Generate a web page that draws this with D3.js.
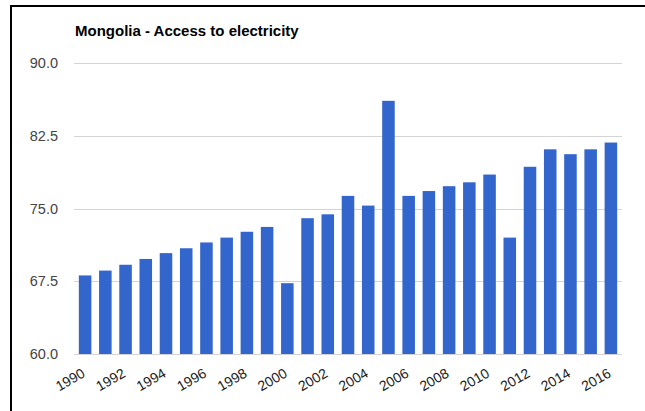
<!DOCTYPE html>
<html>
<head>
<meta charset="utf-8">
<script src="https://cdnjs.cloudflare.com/ajax/libs/d3/7.8.5/d3.min.js"></script>
<style>
  body { margin: 0; background: #fff; }
  text { font-family: Arial, "Liberation Sans", sans-serif; }
</style>
</head>
<body>
<div id="chart"></div>
<script>
// data
var years = [1990, 1991, 1992, 1993, 1994, 1995, 1996, 1997, 1998, 1999,
             2000, 2001, 2002, 2003, 2004, 2005, 2006, 2007, 2008, 2009,
             2010, 2011, 2012, 2013, 2014, 2015, 2016];
var access = [68.1, 68.6, 69.2, 69.8, 70.4, 70.9, 71.5, 72.0, 72.6, 73.1,
              67.3, 74.0, 74.4, 76.3, 75.3, 86.1, 76.3, 76.8, 77.3, 77.7,
              78.5, 72.0, 79.3, 81.1, 80.6, 81.1, 81.8];
var yTicks = [60, 67.5, 75, 82.5, 90];
var xLabelYears = years.filter(function(y){ return y % 2 == 0; });

var width = 645, height = 411;
var margin = {top: 63, right: 24, bottom: 57, left: 75};

var svg = d3.select("#chart").append("svg")
    .attr("width", width)
    .attr("height", height);

// frame (top + left edge only)
svg.append("line").attr("x1", 11).attr("x2", width).attr("y1", 6).attr("y2", 6)
    .attr("stroke", "#000").attr("stroke-width", 2);
svg.append("line").attr("x1", 11).attr("x2", 11).attr("y1", 5).attr("y2", height)
    .attr("stroke", "#000").attr("stroke-width", 2);

var x = d3.scaleBand()
    .domain(years)
    .range([margin.left, width - margin.right])
    .paddingInner(0.38)
    .paddingOuter(0.19);

var y = d3.scaleLinear()
    .domain([60, 90])
    .range([height - margin.bottom, margin.top]);

// gridlines
svg.append("g").selectAll("line")
    .data(yTicks)
    .enter().append("line")
    .attr("x1", margin.left - 1)
    .attr("x2", width - margin.right + 1)
    .attr("y1", function(d){ return Math.round(y(d)) + 0.5; })
    .attr("y2", function(d){ return Math.round(y(d)) + 0.5; })
    .attr("stroke", "#d4d4d4");

// y labels
svg.append("g").selectAll("text")
    .data(yTicks)
    .enter().append("text")
    .attr("x", margin.left - 17)
    .attr("y", function(d){ return y(d); })
    .attr("dy", "0.36em")
    .attr("text-anchor", "end")
    .attr("font-size", 14.5)
    .attr("fill", "#444")
    .text(function(d){ return d3.format(".1f")(d); });

// bars
svg.append("g").selectAll("rect")
    .data(years)
    .enter().append("rect")
    .attr("x", function(d){ return x(d); })
    .attr("y", function(d, i){ return y(access[i]); })
    .attr("width", x.bandwidth())
    .attr("height", function(d, i){ return y(60) - y(access[i]); })
    .attr("fill", "#3366cc");

// x labels, rotated
svg.append("g").selectAll("text")
    .data(xLabelYears)
    .enter().append("text")
    .attr("text-anchor", "end")
    .attr("font-size", 14)
    .attr("fill", "#222")
    .attr("transform", function(d){
        return "translate(" + (x(d) + x.bandwidth() / 2 + 1) + "," + (height - margin.bottom + 22) + ") rotate(-30)";
    })
    .text(function(d){ return d; });

// title
svg.append("text")
    .attr("x", margin.left)
    .attr("y", 36)
    .attr("font-size", 15)
    .attr("font-weight", "bold")
    .attr("fill", "#000")
    .text("Mongolia - Access to electricity");
</script>
</body>
</html>
